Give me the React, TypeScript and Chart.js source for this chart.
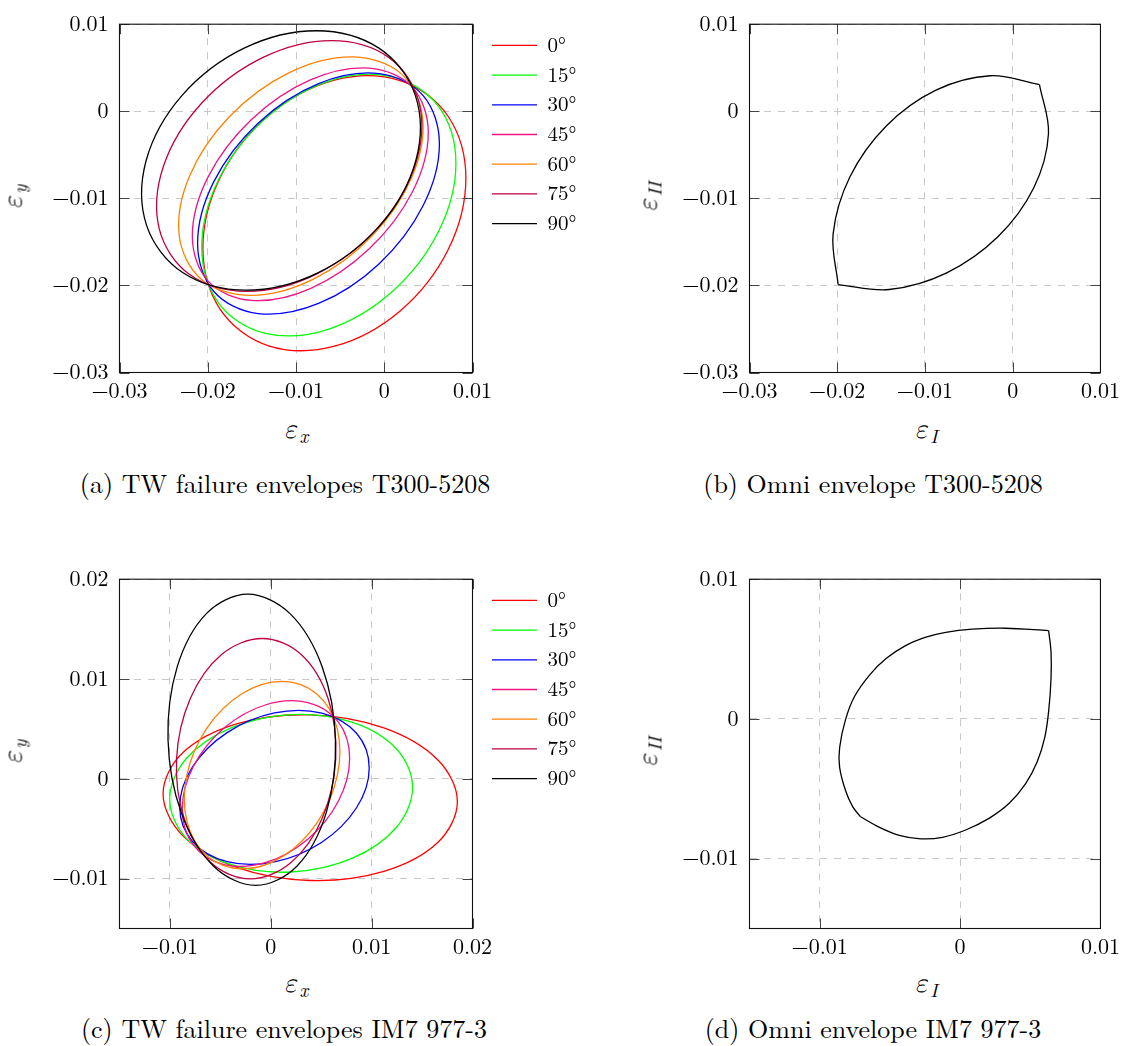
import { useEffect, useRef } from 'react';
import { Chart, registerables } from 'chart.js';

Chart.register(...registerables);

type Pt = [number, number];

const SERIF = '"Latin Modern Roman", "Liberation Serif", "DejaVu Serif", serif';
const MATH = '"Latin Modern Math", "Latin Modern Roman", "Liberation Serif", serif';

// ---------- legend / series styling ----------
const angleLabels = ['0°', '15°', '30°', '45°', '60°', '75°', '90°'];
const angleColors = ['#ff0000', '#00ff00', '#0000ff', '#ee1488', '#ff8000', '#bf0040', '#000000'];

// ---------- (a) TW failure envelopes T300-5208 ----------
const t300Deg0: Pt[] = [[0.00925, -0.0077], [0.00725, -0.0006], [0.0018, 0.00353], [-0.00565, 0.00358], [-0.0131, -0.00047], [-0.01855, -0.00752], [-0.02055, -0.0157], [-0.01855, -0.0228], [-0.0131, -0.02693], [-0.00565, -0.02698], [0.0018, -0.02293], [0.00725, -0.01588]];
const t300Deg15: Pt[] = [[0.00812, -0.00597], [0.00619, 0.00051], [0.00092, 0.00396], [-0.00628, 0.00347], [-0.01348, -0.00084], [-0.01875, -0.00781], [-0.02068, -0.01557], [-0.01875, -0.02205], [-0.01348, -0.0255], [-0.00628, -0.02501], [0.00092, -0.0207], [0.00619, -0.01373]];
const t300Deg30: Pt[] = [[0.00625, -0.00375], [0.00441, 0.0018], [-0.0006, 0.00433], [-0.00745, 0.00317], [-0.0143, -0.00137], [-0.01931, -0.00808], [-0.02115, -0.01515], [-0.01931, -0.0207], [-0.0143, -0.02323], [-0.00745, -0.02207], [-0.0006, -0.01753], [0.00441, -0.01082]];
const t300Deg45: Pt[] = [[0.00499, -0.00245], [0.0032, 0.00275], [-0.0017, 0.00496], [-0.00838, 0.0036], [-0.01507, -0.00097], [-0.01996, -0.00753], [-0.02175, -0.01431], [-0.01996, -0.01951], [-0.01507, -0.02172], [-0.00838, -0.02036], [-0.0017, -0.01579], [0.0032, -0.00924]];
const t300Deg60: Pt[] = [[-0.00375, 0.00625], [0.0018, 0.00441], [0.00433, -0.0006], [0.00317, -0.00745], [-0.00137, -0.0143], [-0.00808, -0.01931], [-0.01515, -0.02115], [-0.0207, -0.01931], [-0.02323, -0.0143], [-0.02207, -0.00745], [-0.01753, -0.0006], [-0.01082, 0.00441]];
const t300Deg75: Pt[] = [[-0.00597, 0.00812], [0.00051, 0.00619], [0.00396, 0.00092], [0.00347, -0.00628], [-0.00084, -0.01348], [-0.00781, -0.01875], [-0.01557, -0.02068], [-0.02205, -0.01875], [-0.0255, -0.01348], [-0.02501, -0.00628], [-0.0207, 0.00092], [-0.01373, 0.00619]];
const t300Deg90: Pt[] = [[-0.0077, 0.00925], [-0.0006, 0.00725], [0.00353, 0.0018], [0.00358, -0.00565], [-0.00047, -0.0131], [-0.00752, -0.01855], [-0.0157, -0.02055], [-0.0228, -0.01855], [-0.02693, -0.0131], [-0.02698, -0.00565], [-0.02293, 0.0018], [-0.01588, 0.00725]];

// ---------- (b) Omni envelope T300-5208 ----------
const t300OmniUpper: Pt[] = [[0.00305, 0.00305], [-0.00255, 0.00408], [-0.00875, 0.00242], [-0.01441, -0.00169], [-0.01855, -0.00752], [-0.02047, -0.01408], [-0.0199, -0.0199]];
const t300OmniLower: Pt[] = [[-0.0199, -0.0199], [-0.01408, -0.02047], [-0.00752, -0.01855], [-0.00169, -0.01441], [0.00242, -0.00875], [0.00408, -0.00255], [0.00305, 0.00305]];

// ---------- (c) TW failure envelopes IM7 977-3 ----------
const im7Deg0: Pt[] = [[0.0185, -0.00229], [0.01655, 0.00191], [0.01121, 0.0051], [0.00391, 0.00641], [-0.00339, 0.0055], [-0.00873, 0.00261], [-0.01068, -0.00149], [-0.00873, -0.00569], [-0.00339, -0.00888], [0.00391, -0.01019], [0.01121, -0.00928], [0.01655, -0.00639]];
const im7Deg15: Pt[] = [[0.01406, -0.00085], [0.01245, 0.00301], [0.00804, 0.00568], [0.00202, 0.00644], [-0.004, 0.00508], [-0.00841, 0.00198], [-0.01002, -0.00205], [-0.00841, -0.00592], [-0.004, -0.00858], [0.00202, -0.00934], [0.00804, -0.00798], [0.01245, -0.00488]];
const im7Deg30: Pt[] = [[0.00976, 0.00109], [0.0085, 0.00456], [0.00506, 0.00658], [0.00037, 0.0066], [-0.00433, 0.00463], [-0.00777, 0.00118], [-0.00903, -0.00281], [-0.00777, -0.00628], [-0.00433, -0.0083], [0.00037, -0.00832], [0.00506, -0.00635], [0.0085, -0.0029]];
const im7Deg45: Pt[] = [[0.00782, 0.00207], [0.00671, 0.00568], [0.00367, 0.00764], [-0.00048, 0.00742], [-0.00463, 0.00509], [-0.00767, 0.00126], [-0.00878, -0.00303], [-0.00767, -0.00664], [-0.00463, -0.0086], [-0.00048, -0.00838], [0.00367, -0.00605], [0.00671, -0.00222]];
const im7Deg60: Pt[] = [[0.00109, 0.00976], [0.00456, 0.0085], [0.00658, 0.00506], [0.0066, 0.00037], [0.00463, -0.00433], [0.00118, -0.00777], [-0.00281, -0.00903], [-0.00628, -0.00777], [-0.0083, -0.00433], [-0.00832, 0.00037], [-0.00635, 0.00506], [-0.0029, 0.0085]];
const im7Deg75: Pt[] = [[-0.00085, 0.01406], [0.00301, 0.01245], [0.00568, 0.00804], [0.00644, 0.00202], [0.00508, -0.004], [0.00198, -0.00841], [-0.00205, -0.01002], [-0.00592, -0.00841], [-0.00858, -0.004], [-0.00934, 0.00202], [-0.00798, 0.00804], [-0.00488, 0.01245]];
const im7Deg90: Pt[] = [[-0.00229, 0.0185], [0.00191, 0.01655], [0.0051, 0.01121], [0.00641, 0.00391], [0.0055, -0.00339], [0.00261, -0.00873], [-0.00149, -0.01068], [-0.00569, -0.00873], [-0.00888, -0.00339], [-0.01019, 0.00391], [-0.00928, 0.01121], [-0.00639, 0.01655]];

// ---------- (d) Omni envelope IM7 977-3 ----------
const im7OmniUpper: Pt[] = [[0.00631, 0.00632], [0.00324, 0.00649], [0.00087, 0.00642], [-0.00102, 0.0062], [-0.00243, 0.00585], [-0.00385, 0.00526], [-0.00527, 0.00432], [-0.00645, 0.00314], [-0.00752, 0.0016], [-0.00816, -0.00005], [-0.00858, -0.00205], [-0.00858, -0.00347], [-0.00816, -0.00512], [-0.00764, -0.0063], [-0.00709, -0.007]];
const im7OmniLower: Pt[] = [[-0.00709, -0.007], [-0.00574, -0.00776], [-0.00433, -0.00833], [-0.00279, -0.00858], [-0.00125, -0.00847], [0.0004, -0.00795], [0.00206, -0.00712], [0.00348, -0.00606], [0.00466, -0.00465], [0.00548, -0.00311], [0.00603, -0.00134], [0.00631, 0.00054], [0.00648, 0.0029], [0.00648, 0.00479], [0.00631, 0.00632]];

// ---------- axes ----------
const t300Ticks = [-0.03, -0.02, -0.01, 0, 0.01];
const t300TickLabels = ['−0.03', '−0.02', '−0.01', '0', '0.01'];
const im7Ticks = [-0.01, 0, 0.01, 0.02];
const im7TickLabels = ['−0.01', '0', '0.01', '0.02'];
const im7OmniTicks = [-0.01, 0, 0.01];
const im7OmniTickLabels = ['−0.01', '0', '0.01'];

const captions = [
  '(a) TW failure envelopes T300-5208',
  '(b) Omni envelope T300-5208',
  '(c) TW failure envelopes IM7 977-3',
  '(d) Omni envelope IM7 977-3',
];

const t300Envelopes = [t300Deg0, t300Deg15, t300Deg30, t300Deg45, t300Deg60, t300Deg75, t300Deg90];
const im7Envelopes = [im7Deg0, im7Deg15, im7Deg30, im7Deg45, im7Deg60, im7Deg75, im7Deg90];

// ---------- plugins ----------
const loopPlugin = {
  id: 'closedLoops',
  beforeDatasetDraw(chart: any, args: any) {
    const ds: any = chart.data.datasets[args.index];
    const line = args.meta && args.meta.dataset;
    if (!ds || !ds.closed || !line) return;
    line._loop = true;
    line._fullLoop = true;
    line._pointsUpdated = false;
    line._segments = undefined;
    line._path = undefined;
    if (typeof line.updateControlPoints === 'function') line.updateControlPoints(chart.chartArea, 'x');
  },
};

const framePlugin = {
  id: 'frameTicks',
  afterDatasetsDraw(chart: any) {
    const { ctx, chartArea: a, scales } = chart;
    const L = 10;
    ctx.save();
    ctx.strokeStyle = '#444';
    ctx.lineWidth = 1;
    ctx.beginPath();
    scales.x.ticks.forEach((t: any) => {
      const p = Math.round(scales.x.getPixelForValue(t.value)) + 0.5;
      ctx.moveTo(p, a.bottom); ctx.lineTo(p, a.bottom - L);
      ctx.moveTo(p, a.top); ctx.lineTo(p, a.top + L);
    });
    scales.y.ticks.forEach((t: any) => {
      const p = Math.round(scales.y.getPixelForValue(t.value)) + 0.5;
      ctx.moveTo(a.left, p); ctx.lineTo(a.left + L, p);
      ctx.moveTo(a.right, p); ctx.lineTo(a.right - L, p);
    });
    ctx.stroke();
    ctx.strokeStyle = '#111';
    ctx.lineWidth = 1.1;
    ctx.strokeRect(a.left, a.top, a.right - a.left, a.bottom - a.top);
    ctx.restore();
  },
};

function legendPlugin(width: number, shiftX: number, shiftY: number) {
  return {
    id: 'legendWidth',
    beforeInit(chart: any) {
      const lg = chart.legend;
      if (!lg) return;
      const orig = lg.fit;
      lg.fit = function (this: any) {
        orig.call(this);
        this.width = width;
      };
    },
    afterLayout(chart: any) {
      const lg = chart.legend;
      if (lg) {
        lg.left += shiftX;
        lg.right += shiftX;
        lg.top += shiftY;
        lg.bottom += shiftY;
      }
    },
  };
}

// ---------- helpers ----------
function curve(data: Pt[], color: string, label: string, order: number, closed: boolean) {
  return {
    label,
    data: data.map(([x, y]) => ({ x, y })),
    borderColor: color,
    backgroundColor: color,
    borderWidth: 1.3,
    pointRadius: 0,
    pointHoverRadius: 0,
    showLine: true,
    tension: 0.35,
    fill: false,
    order,
    closed,
  };
}

interface PanelSpec {
  datasets: any[];
  xRange: [number, number];
  yRange: [number, number];
  xTicks: number[];
  xLabels: string[];
  yTicks: number[];
  yLabels: string[];
  yAxisWidth: number;
  xAxisHeight: number;
  padTop: number;
  padRight: number;
  legendWidth?: number;
}

function makeConfig(s: PanelSpec): any {
  const tickFont = { family: SERIF, size: 22 };
  const grid = { color: '#c8c8c8', lineWidth: 1, drawTicks: false };
  const border = { display: false, dash: [7, 7] };
  return {
    type: 'scatter',
    data: { datasets: s.datasets },
    options: {
      responsive: false,
      animation: false,
      devicePixelRatio: 1,
      events: [],
      layout: { autoPadding: false, padding: { top: s.padTop, right: s.padRight, left: 0, bottom: 0 } },
      scales: {
        x: {
          type: 'linear',
          min: s.xRange[0],
          max: s.xRange[1],
          afterBuildTicks: (sc: any) => { sc.ticks = s.xTicks.map((v) => ({ value: v })); },
          afterFit: (sc: any) => { sc.height = s.xAxisHeight; },
          ticks: { callback: (_v: any, i: number) => s.xLabels[i], autoSkip: false, maxRotation: 0, padding: 6, color: '#000', font: tickFont },
          grid,
          border,
        },
        y: {
          type: 'linear',
          min: s.yRange[0],
          max: s.yRange[1],
          afterBuildTicks: (sc: any) => { sc.ticks = s.yTicks.map((v) => ({ value: v })); },
          afterFit: (sc: any) => { sc.width = s.yAxisWidth; },
          ticks: { callback: (_v: any, i: number) => s.yLabels[i], autoSkip: false, padding: 11, color: '#000', font: tickFont },
          grid,
          border,
        },
      },
      plugins: {
        legend: s.legendWidth
          ? {
              display: true,
              position: 'right',
              align: 'start',
              fullSize: false,
              labels: {
                usePointStyle: true,
                pointStyle: 'line',
                pointStyleWidth: 45,
                padding: 8.7,
                color: '#000',
                font: { family: SERIF, size: 21 },
                sort: (a: any, b: any) => a.datasetIndex - b.datasetIndex,
              },
            }
          : { display: false },
        tooltip: { enabled: false },
        title: { display: false },
      },
    },
    plugins: [loopPlugin, framePlugin, ...(s.legendWidth ? [legendPlugin(s.legendWidth, 10.8, 2)] : [])],
  };
}

function ChartCanvas({ spec, left, top, width, height }: { spec: PanelSpec; left: number; top: number; width: number; height: number }) {
  const ref = useRef<HTMLCanvasElement | null>(null);
  useEffect(() => {
    if (!ref.current) return;
    const chart = new Chart(ref.current, makeConfig(spec));
    return () => chart.destroy();
  }, []);
  return <canvas ref={ref} width={width} height={height} style={{ position: 'absolute', left, top, width, height }} />;
}

function AxisLabel({ sub, x, y, vertical }: { sub: string; x: number; y: number; vertical?: boolean }) {
  return (
    <div
      style={{
        position: 'absolute',
        left: x,
        top: y,
        transform: `translate(-50%, -50%)${vertical ? ' rotate(-90deg)' : ''}`,
        fontFamily: SERIF,
        fontSize: 27,
        lineHeight: 1,
        whiteSpace: 'nowrap',
        color: '#000',
      }}
    >
      <span style={{ fontFamily: MATH, fontStyle: 'italic', fontSize: 28 }}>ε</span>
      <span style={{ fontStyle: 'italic', fontSize: 19, position: 'relative', top: 5, marginLeft: 1 }}>{sub}</span>
    </div>
  );
}

function Caption({ text, x, y }: { text: string; x: number; y: number }) {
  return (
    <div
      style={{
        position: 'absolute',
        left: x,
        top: y,
        transform: 'translate(-50%, -50%)',
        fontFamily: SERIF,
        fontSize: 26,
        lineHeight: 1,
        whiteSpace: 'nowrap',
        color: '#000',
      }}
    >
      {text}
    </div>
  );
}

const panelA: PanelSpec = {
  datasets: t300Envelopes.map((d, i) => curve(d, angleColors[i], angleLabels[i], 6 - i, true)),
  xRange: [-0.03, 0.01], yRange: [-0.03, 0.01],
  xTicks: t300Ticks, xLabels: t300TickLabels, yTicks: t300Ticks, yLabels: t300TickLabels,
  yAxisWidth: 119.5, xAxisHeight: 37.5, padTop: 19.5, padRight: 0, legendWidth: 127.5,
};
const panelB: PanelSpec = {
  datasets: [curve(t300OmniUpper, '#000', 'omni', 0, false), curve(t300OmniLower, '#000', 'omni', 1, false)],
  xRange: [-0.03, 0.01], yRange: [-0.03, 0.01],
  xTicks: t300Ticks, xLabels: t300TickLabels, yTicks: t300Ticks, yLabels: t300TickLabels,
  yAxisWidth: 129.5, xAxisHeight: 37.5, padTop: 19.5, padRight: 23.5,
};
const panelC: PanelSpec = {
  datasets: im7Envelopes.map((d, i) => curve(d, angleColors[i], angleLabels[i], 6 - i, true)),
  xRange: [-0.015, 0.02], yRange: [-0.015, 0.02],
  xTicks: im7Ticks, xLabels: im7TickLabels, yTicks: im7Ticks, yLabels: im7TickLabels,
  yAxisWidth: 119.5, xAxisHeight: 36.5, padTop: 20.5, padRight: 0, legendWidth: 127.5,
};
const panelD: PanelSpec = {
  datasets: [curve(im7OmniUpper, '#000', 'omni', 0, false), curve(im7OmniLower, '#000', 'omni', 1, false)],
  xRange: [-0.015, 0.01], yRange: [-0.015, 0.01],
  xTicks: im7OmniTicks, xLabels: im7OmniTickLabels, yTicks: im7OmniTicks, yLabels: im7OmniTickLabels,
  yAxisWidth: 129.5, xAxisHeight: 36.5, padTop: 20.5, padRight: 23.5,
};

export default function App() {
  return (
    <div style={{ position: 'absolute', left: 0, top: 0, width: 1126, height: 1046, background: '#fff', overflow: 'hidden' }}>
      <ChartCanvas spec={panelA} left={0} top={0} width={600} height={410} />
      <ChartCanvas spec={panelB} left={620} top={0} width={506} height={410} />
      <ChartCanvas spec={panelC} left={0} top={555} width={600} height={410} />
      <ChartCanvas spec={panelD} left={620} top={555} width={506} height={410} />

      <AxisLabel sub="x" x={296} y={428} />
      <AxisLabel sub="y" x={12} y={197} vertical />
      <AxisLabel sub="I" x={926} y={428} />
      <AxisLabel sub="II" x={647} y={197} vertical />
      <AxisLabel sub="x" x={296} y={982} />
      <AxisLabel sub="y" x={12} y={752} vertical />
      <AxisLabel sub="I" x={926} y={982} />
      <AxisLabel sub="II" x={647} y={752} vertical />

      <Caption text={captions[0]} x={285} y={483} />
      <Caption text={captions[1]} x={873} y={483} />
      <Caption text={captions[2]} x={284} y={1028} />
      <Caption text={captions[3]} x={873} y={1028} />
    </div>
  );
}
